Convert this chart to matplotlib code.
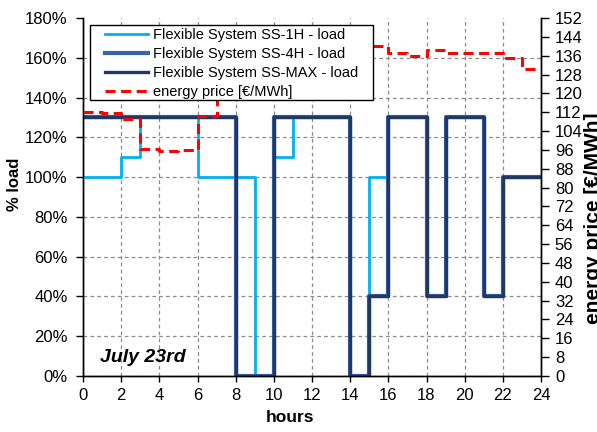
import matplotlib
matplotlib.use("Agg")
import matplotlib.pyplot as plt
import numpy as np
from matplotlib.path import Path

plt.rcParams["font.family"] = ["Liberation Sans", "DejaVu Sans"]

# hourly values (one value per hour, hours 0..23)
hour_edges = list(range(25))
load_ss_1h = [100, 100, 110, 130, 130, 130, 100, 100, 100, 0, 110, 130,
              130, 130, 0, 100, 130, 130, 40, 130, 130, 40, 100, 100]
load_ss_4h = [130, 130, 130, 130, 130, 130, 130, 130, 0, 0, 130, 130,
              130, 130, 0, 40, 130, 130, 40, 130, 130, 40, 100, 100]
load_ss_max = [130, 130, 130, 130, 130, 130, 130, 130, 0, 0, 130, 130,
               130, 130, 0, 40, 130, 130, 40, 130, 130, 40, 100, 100]
energy_price = [112, 111.5, 109, 96.3, 95.5, 96, 110.4, 126, 133, 138, 141, 143,
                144, 143, 141.5, 140.3, 137.2, 136, 138.4, 137, 137, 137, 134.9, 130.4]

x_ticks = list(range(0, 25, 2))
load_ticks = list(range(0, 181, 20))
load_tick_labels = [f"{v}%" for v in load_ticks]
price_ticks = list(range(0, 153, 8))

labels = ["Flexible System SS-1H - load", "Flexible System SS-4H - load",
          "Flexible System SS-MAX - load", "energy price [€/MWh]"]
colors = ["#00B0F0", "#3A62A7", "#1F3864", "#FF0000"]


def stepped(vals):
    return list(vals) + [vals[-1]]


fig = plt.figure(figsize=(5.97, 4.32), dpi=100)
ax = fig.add_axes([83 / 597, 1 - 376 / 432, 458 / 597, 358 / 432])
ax2 = ax.twinx()

l1, = ax.step(hour_edges, stepped(load_ss_1h), where="post", color=colors[0], lw=2.0, zorder=3)
l2, = ax.step(hour_edges, stepped(load_ss_4h), where="post", color=colors[1], lw=3.0, zorder=4)
l3, = ax.step(hour_edges, stepped(load_ss_max), where="post", color=colors[2], lw=2.4, zorder=5)
l4, = ax2.step(hour_edges, stepped(energy_price), where="post", color=colors[3], lw=2.2,
               ls=(0, (3.3, 1.8)), zorder=3)

ax.set_xlim(0, 24)
ax.set_ylim(0, 180)
ax2.set_ylim(0, 152)
ax.set_xticks(x_ticks)
ax.set_xticklabels([str(v) for v in x_ticks])
ax.set_yticks(load_ticks)
ax.set_yticklabels(load_tick_labels)
ax2.set_yticks(price_ticks)
ax2.set_yticklabels([str(v) for v in price_ticks])

ax.set_axisbelow(True)
ax.grid(True, color="#8C8C8C", ls=(0, (3, 2.5)), lw=0.9)
ax.yaxis.get_major_ticks()[-1].gridline.set_visible(False)

for a in (ax, ax2):
    a.spines["top"].set_visible(False)
    for s in ("left", "right", "bottom"):
        a.spines[s].set_color("black")
        a.spines[s].set_linewidth(1.0)

ax.tick_params(axis="x", direction="out", length=4, width=1, labelsize=12, pad=5)
ax.tick_params(axis="y", direction="out", length=5, width=1, labelsize=12, pad=6)
ax2.tick_params(axis="y", direction="out", length=6, width=1, labelsize=12, pad=4)

ax.set_xlabel("hours", fontsize=12.5, fontweight="bold")
ax.xaxis.set_label_coords(0.453, -0.095)
ax.set_ylabel("% load", fontsize=12, fontweight="bold")
ax.yaxis.set_label_coords(-0.133, 0.536)
ax2.set_ylabel("energy price [€/MWh]", fontsize=15, fontweight="bold")
ax2.yaxis.set_label_coords(1.094, 0.44)

ax.text(0.037, 0.04, "July 23rd", transform=ax.transAxes, fontsize=14,
        fontweight="bold", style="italic", va="baseline", ha="left")


def wide_box(x0, y0, width, height, mutation_size):
    dx = 0.98 * mutation_size
    top = 0.2 * mutation_size
    return Path([(x0 - dx, y0), (x0 + width + dx, y0),
                 (x0 + width + dx, y0 + height + top), (x0 - dx, y0 + height + top),
                 (x0 - dx, y0)], closed=True)


leg = ax2.legend([l1, l2, l3, l4], labels, loc="upper left",
                 bbox_to_anchor=(0.047, 0.973), borderaxespad=0, borderpad=0.05,
                 fontsize=10.5, handlelength=2.95, handletextpad=0.32,
                 labelspacing=0.33, fancybox=False, framealpha=1,
                 edgecolor="black")
leg.get_frame().set_boxstyle(wide_box)
leg.get_frame().set_linewidth(1.0)
leg.set_zorder(10)

fig.savefig("out.png", dpi=100)
